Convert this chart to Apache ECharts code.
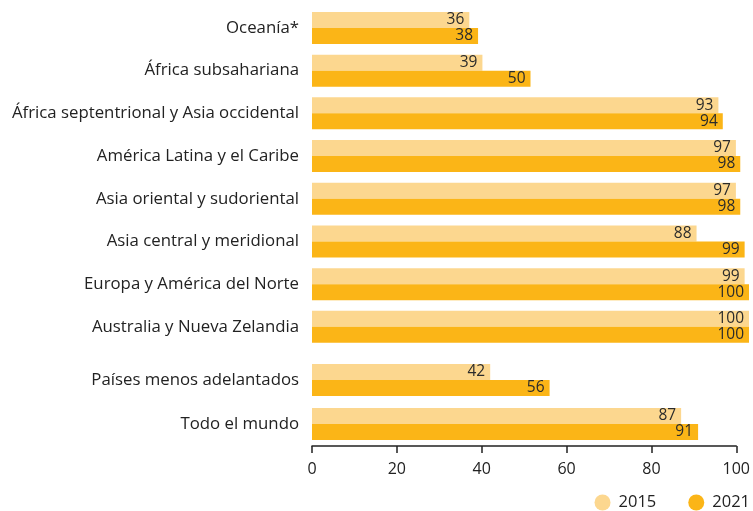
<!DOCTYPE html>
<html>
<head>
<meta charset="utf-8">
<script src="https://cdn.jsdelivr.net/npm/echarts@6/dist/echarts.min.js"></script>
<style>
  html, body { margin: 0; padding: 0; background: #fff; }
  #chart { width: 753px; height: 511px; }
</style>
</head>
<body>
<div id="chart"></div>
<script>
  // regiones (bloque superior)
  const regions = [
    'Oceanía*',
    'África subsahariana',
    'África septentrional y Asia occidental',
    'América Latina y el Caribe',
    'Asia oriental y sudoriental',
    'Asia central y meridional',
    'Europa y América del Norte',
    'Australia y Nueva Zelandia'
  ]
  const regions2015 = [36, 39, 93, 97, 97, 88, 99, 100]
  const regions2021 = [38, 50, 94, 98, 98, 99, 100, 100]

  // agregados (bloque inferior)
  const groups = ['Países menos adelantados', 'Todo el mundo']
  const groups2015 = [42, 87]
  const groups2021 = [56, 91]

  const xTicks = [0, 20, 40, 60, 80, 100]
  const years = ['2015', '2021']
  const colors = ['#fcd78f', '#fbb517']

  const font = '"Open Sans", sans-serif'

  const chart = echarts.init(document.getElementById('chart'))

  const label = {
    show: true,
    position: 'insideRight',
    distance: 5,
    color: '#2b2b2b',
    fontSize: 15.5,
    fontFamily: font
  }

  function bar(name, data, idx, color) {
    return {
      name: name,
      type: 'bar',
      xAxisIndex: idx,
      yAxisIndex: idx,
      data: data,
      barWidth: 16,
      barGap: '0%',
      itemStyle: { color: color },
      label: label,
      animation: false
    }
  }

  const xBase = {
    type: 'value',
    min: xTicks[0],
    max: xTicks[xTicks.length - 1],
    interval: 20,
    splitLine: { show: false }
  }

  const yBase = {
    type: 'category',
    inverse: true,
    axisLine: { show: false },
    axisTick: { show: false },
    axisLabel: { color: '#222', fontSize: 16.8, fontFamily: font, margin: 13 }
  }

  const option = {
    color: colors,
    legend: {
      data: years,
      right: 3,
      bottom: 0,
      padding: 0,
      icon: 'circle',
      itemWidth: 16,
      itemHeight: 16,
      itemGap: 32,
      textStyle: { color: '#222', fontSize: 16.5, fontFamily: font, padding: [0, 0, 0, 3] }
    },
    grid: [
      { left: 312, right: 4, top: 6.6, height: 341.6 },
      { left: 312, right: 4, top: 358, height: 88 }
    ],
    xAxis: [
      Object.assign({}, xBase, { gridIndex: 0, show: false }),
      Object.assign({}, xBase, {
        gridIndex: 1,
        axisLine: { show: true, lineStyle: { color: '#222', width: 1.5 } },
        axisTick: { show: true, length: 7, lineStyle: { color: '#222', width: 1.5 } },
        axisLabel: { color: '#222', fontSize: 16, fontFamily: font, margin: 15 }
      })
    ],
    yAxis: [
      Object.assign({}, yBase, { gridIndex: 0, data: regions }),
      Object.assign({}, yBase, { gridIndex: 1, data: groups })
    ],
    series: [
      bar(years[0], regions2015, 0, colors[0]),
      bar(years[1], regions2021, 0, colors[1]),
      bar(years[0], groups2015, 1, colors[0]),
      bar(years[1], groups2021, 1, colors[1])
    ]
  }

  chart.setOption(option)
</script>
</body>
</html>
